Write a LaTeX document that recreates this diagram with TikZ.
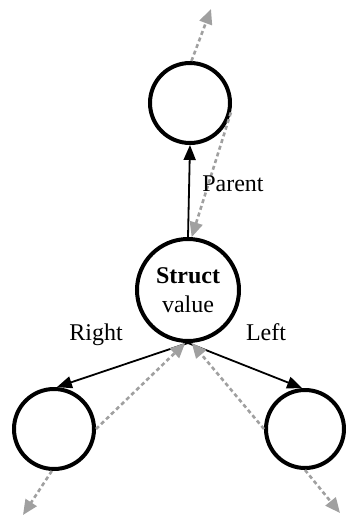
\documentclass[tikz,border=0pt]{standalone}
\usepackage{fontspec}
\setmainfont{Liberation Serif}
\usetikzlibrary{arrows.meta}
\definecolor{arrgray}{RGB}{160,160,160}
\begin{document}
\begin{tikzpicture}[x=1pt,y=-1pt,
  circ/.style={circle,draw=black,line width=4pt,fill=white,inner sep=0pt},
  blk/.style={draw=black,line width=1.8pt,-{Triangle[length=15pt,width=12pt]}},
  gry/.style={draw=arrgray,line width=2.6pt,dash pattern=on 4pt off 3pt,-{Triangle[length=15pt,width=13pt]}},
  lbl/.style={font=\fontsize{24}{29}\selectfont,inner sep=0pt}]
\useasboundingbox (0,0) rectangle (346,517);
\node[circ,minimum size=80pt] (top) at (190,103) {};
\node[circ,minimum size=102pt,lbl,align=center] (mid) at (188,290) {\textbf{Struct}\\value};
\node[circ,minimum size=80pt] (lft) at (54,429) {};
\node[circ,minimum size=78pt] (rgt) at (305,429) {};
\coordinate (topend) at (211,9);
\coordinate (lftend) at (23,515);
\coordinate (rgtend) at (340,513);
% black connectors
\draw[blk] (mid.north) -- (top.south);
\draw[blk] (mid.south) -- (lft.86);
\draw[blk] (mid.south) -- (rgt.94);
% gray dashed connectors
\draw[gry] (top.-13) -- (mid.86);
\draw[gry] (top.88) -- (topend);
\draw[gry] (lft.0) -- (mid.-93);
\draw[gry] (rgt.180) -- (mid.-86);
\draw[gry] (lft.-93) -- (lftend);
\draw[gry] (rgt.-90) -- (rgtend);
% labels
\node[lbl] (lparent) at (233,184) {Parent};
\node[lbl] (lright) at (96,335) {Right};
\node[lbl] (lleft) at (266,332) {Left};
\end{tikzpicture}
\end{document}
